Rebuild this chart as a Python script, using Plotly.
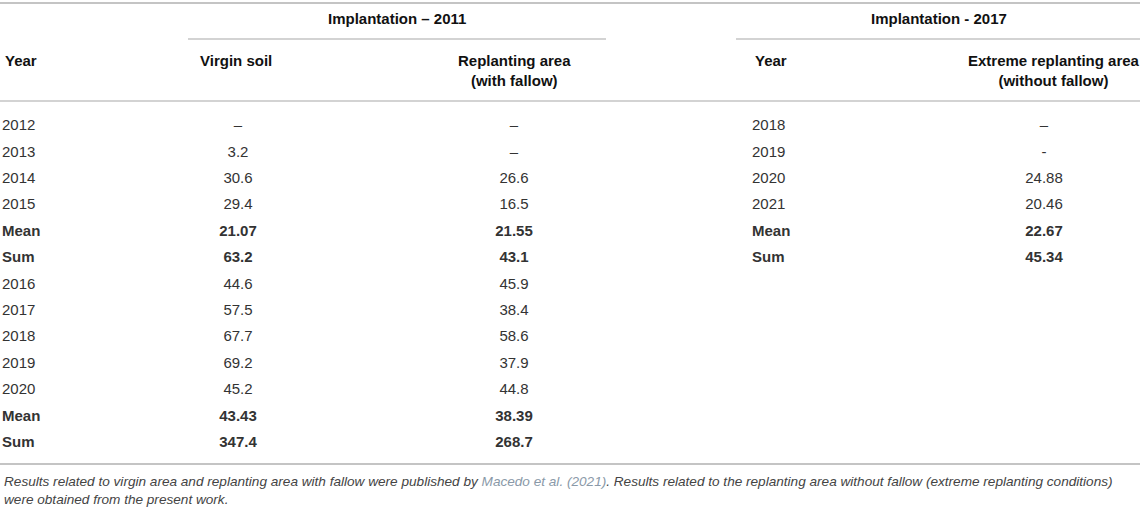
import plotly.graph_objects as go

# table contents
years_2011 = ["2012", "2013", "2014", "2015", "Mean", "Sum",
              "2016", "2017", "2018", "2019", "2020", "Mean", "Sum"]
virgin_soil = ["–", "3.2", "30.6", "29.4", "21.07", "63.2",
               "44.6", "57.5", "67.7", "69.2", "45.2", "43.43", "347.4"]
replanting = ["–", "–", "26.6", "16.5", "21.55", "43.1",
              "45.9", "38.4", "58.6", "37.9", "44.8", "38.39", "268.7"]
years_2017 = ["2018", "2019", "2020", "2021", "Mean", "Sum"]
extreme = ["–", "-", "24.88", "20.46", "22.67", "45.34"]

bold_rows = ["Mean", "Sum"]

group_titles = ["Implantation – 2011", "Implantation - 2017"]
col_titles = ["Year", "Virgin soil", "Replanting area<br>(with fallow)",
              "Year", "Extreme replanting area<br>(without fallow)"]

footnote = ("<i>Results related to virgin area and replanting area with fallow were published by "
            "<span style='color:#8a99a8'>Macedo et al. (2021)</span>. Results related to the replanting "
            "area without fallow (extreme replanting conditions)<br>were obtained from the present work.</i>")

W, H = 1143, 510
FONT = "Liberation Sans, Arial, sans-serif"
TXT = "#333333"
RULE = "#c4c4c4"
FS = 15

row0, row_step = 126.5, 26.4


def fmt(vals, labels):
    out = []
    for v, lab in zip(vals, labels):
        out.append("<b>%s</b>" % v if lab in bold_rows else v)
    return out


fig = go.Figure()


def add_col(x, vals, labels, pos):
    fig.add_trace(go.Scatter(
        x=[x] * len(vals),
        y=[row0 + i * row_step for i in range(len(vals))],
        text=fmt(vals, labels),
        mode="text",
        textposition=pos,
        textfont=dict(family=FONT, size=FS, color=TXT),
        hoverinfo="none",
        showlegend=False,
    ))


add_col(2, years_2011, years_2011, "middle right")
add_col(238, virgin_soil, years_2011, "middle center")
add_col(514, replanting, years_2011, "middle center")
add_col(752, years_2017, years_2017, "middle right")
add_col(1044, extreme, years_2017, "middle center")

# header texts
hdr = dict(family=FONT, size=FS, color="#111111")
ann = []
for x, t in zip([397, 939], group_titles):
    ann.append(dict(x=x, y=18, text="<b>%s</b>" % t, showarrow=False,
                    xanchor="center", yanchor="middle", font=hdr))
for x, anchor, t in zip([3, 236, 514, 753, 1054],
                        ["left", "center", "center", "left", "center"], col_titles):
    ann.append(dict(x=x, y=50, text="<b>%s</b>" % t, showarrow=False,
                    xanchor=anchor, yanchor="top", align="center",
                    font=hdr))
ann.append(dict(x=2, y=490, text=footnote, showarrow=False, xanchor="left",
                yanchor="middle", align="left",
                font=dict(family=FONT, size=13.6, color="#444444")))

shapes = []
for x0, x1, y, w in [(0, 1140, 3, 2), (188, 606, 39, 1.5), (736, 1140, 39, 1.5),
                     (0, 1140, 101, 1.5), (0, 1140, 464, 2)]:
    shapes.append(dict(type="line", x0=x0, x1=x1, y0=y, y1=y, xref="x", yref="y",
                       line=dict(color=RULE, width=w)))

fig.update_layout(
    width=W, height=H,
    margin=dict(l=0, r=0, t=0, b=0),
    paper_bgcolor="white", plot_bgcolor="white",
    xaxis=dict(range=[0, W], visible=False, fixedrange=True),
    yaxis=dict(range=[H, 0], visible=False, fixedrange=True),
    annotations=ann,
    shapes=shapes,
)

fig.write_html("out.html", config={"displayModeBar": False},
               post_script="document.body.style.margin='0';")
